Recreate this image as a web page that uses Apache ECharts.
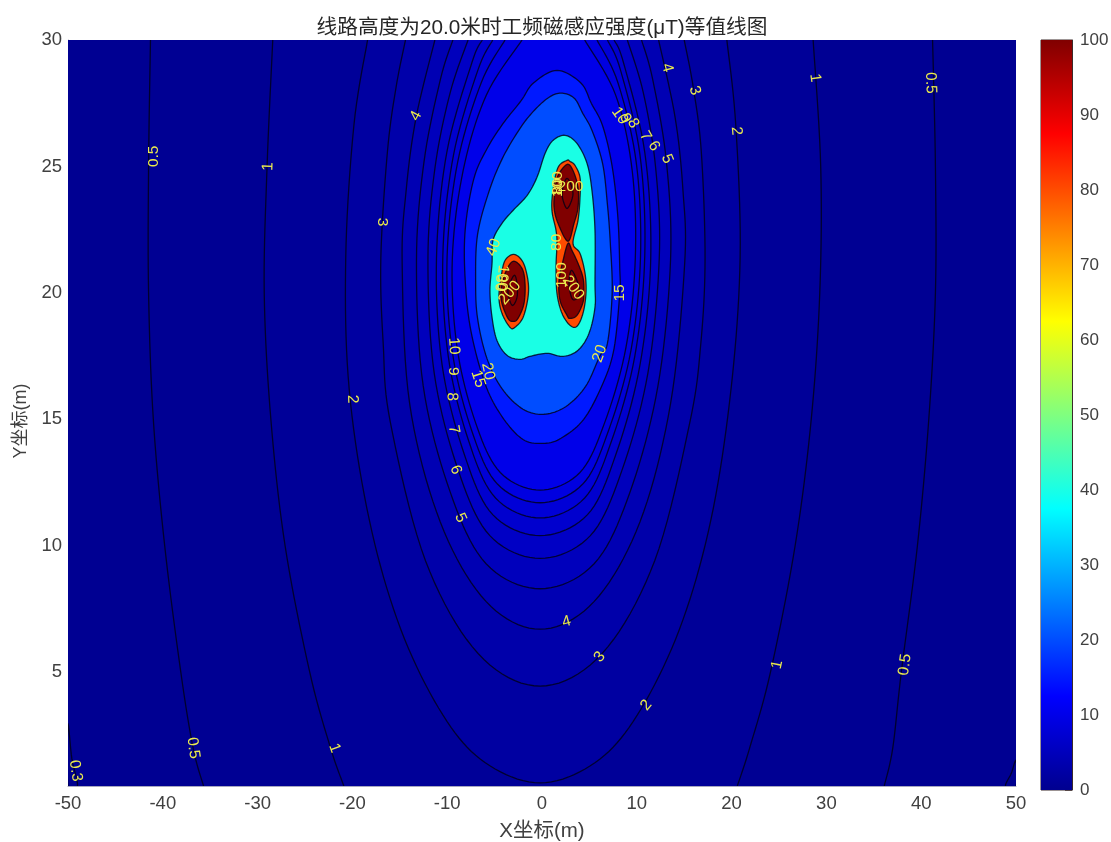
<!DOCTYPE html>
<html><head><meta charset="utf-8">
<style>html,body{margin:0;padding:0;background:#fff}#c{width:1111px;height:842px}</style>
<script src="https://cdn.jsdelivr.net/npm/echarts@6/dist/echarts.min.js"></script>
</head><body><div id="c"></div>
<script>
const titleText = '线路高度为20.0米时工频磁感应强度(μT)等值线图';
const xName = 'X坐标(m)';
const yName = 'Y坐标(m)';
const xTicks = [-50,-40,-30,-20,-10,0,10,20,30,40,50];
const yTicks = [5,10,15,20,25,30];
const colorbarValue = [100];

// contour outlines, [x, y] in axis units
const plotArea = [[-50,30],[50,30],[50,0.5],[-50,0.5]];
const level03Left = [[-50,2.9],[-49.6,1.6],[-49,0.5],[-50,0.5]];
const level03Right = [[50,1.5],[49.5,1],[48.9,0.5],[50,0.5]];
const level05 = [[-41.3,30],[-41.5,25],[-41.5,20],[-41,15],[-39.8,10],[-38.1,5],[-36.8,2],[-35.7,0.5],[36.1,0.5],[37,2],[37.9,5],[39.6,10],[40.8,15],[41.5,20],[41.5,25],[41.2,30]];
const level1 = [[-28.4,30],[-29,25],[-29.3,20],[-28.6,15],[-27.1,10],[-24.5,5],[-22.3,2],[-20.9,0.5],[20.6,0.5],[21.9,2],[24.1,5],[26.7,10],[28.4,15],[29.3,20],[29.4,25],[28.6,30]];
const level2 = [[-18.4,30],[-19.84,26.63],[-20.7,21.42],[-20.34,16.2],[-18.21,11.01],[-14.9,6.7],[-10.46,3.31],[-6.02,1.43],[-0.2,0.62],[5.62,1.43],[10.06,3.31],[14.5,6.7],[17.81,11.01],[19.94,16.2],[20.9,21.42],[20.44,26.63],[19.5,30]];
const level3 = [[-14.4,30],[-15.39,28.14],[-16.3,25.6],[-17,21.37],[-16.75,17.99],[-16,14.89],[-12.29,9.41],[-6.74,5.74],[-0.2,4.45],[6.34,5.74],[11.89,9.41],[15.6,14.89],[16.75,17.99],[17.2,21.37],[16.8,25.6],[15.95,28.14],[15,30]];
const level4 = [[-11.3,30],[-13.28,26.94],[-14.33,24.05],[-14.75,21.16],[-13.96,15.62],[-10.73,10.94],[-5.91,7.8],[-0.2,6.7],[5.51,7.8],[10.33,10.94],[13.56,15.62],[15.05,21.16],[14.87,24.05],[14.04,26.94],[12.3,30]];
const level5 = [[-9.4,30],[-10.71,28.45],[-12.44,25.2],[-13.24,21.3],[-12.53,16.32],[-9.67,12.11],[-5.9,9.29],[-0.2,8.3],[5.5,9.29],[9.27,12.11],[12.23,16.32],[13.56,21.3],[13.12,25.2],[11.67,28.45],[10.5,30]];
const level6 = [[-7.8,30],[-9.69,27.91],[-11.29,24.94],[-12.03,21.38],[-11.37,16.83],[-8.83,12.98],[-5.5,10.4],[-0.2,9.5],[5.1,10.4],[8.43,12.98],[11.17,16.83],[12.37,21.38],[11.99,24.94],[10.69,27.91],[9,30]];
const level7 = [[-6.3,30],[-7.39,29.11],[-10.04,25.56],[-11.13,21.36],[-10.54,17.16],[-8.19,13.61],[-5.2,11.23],[-0.2,10.4],[4.8,11.23],[7.79,13.61],[10.34,17.16],[11.47,21.36],[10.84,25.56],[8.59,29.11],[7.6,30]];
const level8 = [[-5.2,30],[-6.77,28.8],[-9.34,25.44],[-10.46,21.47],[-9.89,17.5],[-7.73,14.14],[-4.9,11.89],[-0.2,11.1],[4.5,11.89],[7.33,14.14],[9.79,17.5],[10.84,21.47],[10.34,25.44],[8.29,28.8],[6.9,30]];
const level9 = [[-3.9,30],[-6.41,28.31],[-8.9,25.16],[-10.01,21.43],[-9.47,17.7],[-7.41,14.55],[-4.7,12.44],[-0.2,11.7],[4.3,12.44],[7.01,14.55],[9.37,17.7],[10.39,21.43],[9.94,25.16],[8.01,28.31],[5.8,30]];
const level10 = [[-2.1,30],[-5.87,27.82],[-8.31,24.85],[-9.46,21.35],[-8.96,17.85],[-7.02,14.88],[-4.4,12.9],[-0.2,12.2],[4,12.9],[6.62,14.88],[8.86,17.85],[9.84,21.35],[9.51,24.85],[7.77,27.82],[4.5,30]];
const level15 = [[1.6,28.8],[4.1,28.3],[5.2,27.5],[6.4,26.6],[7.4,25],[8,23],[8.2,21],[8.2,20],[7.6,17.8],[6.4,16.4],[4.4,15],[2,14.25],[0.2,14.05],[-2,14.2],[-4.2,15.1],[-6,16.4],[-7.5,18.5],[-8.1,20.5],[-8.1,22.5],[-7.2,24.5],[-5.8,25.7],[-4.1,26.7],[-2.2,27.6],[-0.9,28.3]];
const level20 = [[2,27.9],[3.4,27.7],[4.3,27.1],[5.3,26.4],[6.4,25.1],[6.9,23.5],[7.2,22],[7.4,20],[6.9,18],[6.1,17.5],[4.6,16.3],[2.5,15.5],[0.2,15.2],[-2,15.4],[-4.2,16.2],[-5.8,17.4],[-6.8,19],[-7,20.5],[-6.8,22.3],[-5.6,24],[-4.2,25.3],[-2.5,26.4],[-1.1,27.1],[0.6,27.7]];
const level40 = [[2.43,26.23],[3.69,25.91],[4.75,25.12],[5.27,24.05],[5.59,22.47],[5.59,20.38],[5.59,19.43],[4.96,18.4],[3.8,17.73],[2.22,17.49],[0.53,17.61],[-1.27,17.49],[-2.32,17.37],[-3.69,17.53],[-4.75,18.12],[-5.27,19.03],[-5.49,20.1],[-5.27,21.17],[-5.17,22.08],[-4.22,22.75],[-3.06,23.26],[-1.58,23.85],[-0.53,24.57],[0.32,25.51],[1.16,26.03]];
const level80Right = [[2.64,25.24],[2.95,25.2],[3.48,25.04],[4.01,24.56],[4.01,23.77],[3.8,22.87],[3.27,21.96],[4.01,21.56],[4.54,20.77],[4.64,19.98],[4.32,19.19],[3.69,18.68],[2.95,18.72],[2.11,19.19],[1.58,19.98],[1.48,21.01],[1.58,21.96],[1.48,22.47],[1.05,23.26],[1.16,24.05],[1.69,24.96]];
const level80Left = [[-2.95,21.52],[-2,21.21],[-1.48,20.49],[-1.48,19.82],[-2,19.03],[-2.85,18.64],[-3.38,18.64],[-4.22,19.19],[-4.54,19.82],[-4.32,20.61],[-3.9,21.28]];
const level100Upper = [[2.64,25.08],[3.27,24.84],[3.8,24.17],[3.8,23.38],[3.38,22.75],[2.74,22.04],[1.69,22.75],[1.27,23.38],[1.37,24.05],[1.69,24.64]];
const level100Lower = [[2.74,21.96],[3.16,21.68],[3.8,21.17],[4.32,20.61],[4.43,20.1],[4.32,19.62],[3.69,19.11],[2.95,18.99],[2.64,19.11],[1.9,19.7],[1.79,20.49],[2.22,21.28]];
const level100Left = [[-3.06,21.25],[-2.11,20.97],[-1.79,20.38],[-1.9,19.58],[-2.53,18.99],[-3.06,18.87],[-3.59,18.99],[-4.22,19.58],[-4.32,20.1],[-3.9,20.77]];
const level200Upper = [[2.64,24.53],[3.27,23.93],[2.64,23.34],[2.11,23.93]];
const level200Lower = [[3.16,20.89],[4.01,20.1],[3.69,19.78],[3.16,19.78],[2.85,20.38]];
const level200Left = [[-2.95,20.69],[-2.64,20.38],[-2.64,19.82],[-3.16,19.51],[-3.59,20.1]];

// contour labels
const labelTexts = ['0.3','0.5','0.5','0.5','0.5','1','1','1','1','2','2','2','3','3','3','4','4','4','5','5','6','6','7','7','8','8','9','9','10','10','15','20','15','20','40','80','100','200','100','80','200','100','80','200'];
const labelX = [-49.2,-41,41,38.3,-36.8,-28.9,28.8,24.8,-21.9,-20,20.5,11,-16.9,16.1,6.1,-13.3,13.2,2.6,-8.6,13.2,-9.1,11.8,-9.3,10.9,-9.5,9.6,-9.4,8.8,-9.3,8.2,-6.75,-5.7,8.2,6.1,-5.1,1.5,2.1,3.3,1.7,1.7,3,-4.2,-4.4,-3.4];
const labelY = [1.1,25.4,28.3,5.3,2,25,28.5,5.3,2,15.8,26.4,3.7,22.8,28,5.6,27,28.9,7,11.1,25.3,13,25.8,14.6,26.2,15.9,26.7,16.9,26.9,17.9,27,16.6,16.9,20,17.6,21.8,22,20.7,20.2,24.3,24.2,24.2,20.6,20.4,20];
const labelAngles = [-82,90,-88,82,-82,88,-82,78,-70,-88,-85,50,-90,-70,50,62,-75,15,-65,-68,-70,-60,-80,-60,-88,-60,-90,-58,-86,-55,-72,-78,90,70,70,90,90,-55,90,90,0,-95,-95,50];

const contours = [
  {level:0.3, points:plotArea, line:false},
  {level:0, points:level03Left, line:true},
  {level:0, points:level03Right, line:true},
  {level:0.5, points:level05, line:true},
  {level:1, points:level1, line:true},
  {level:2, points:level2, line:true},
  {level:3, points:level3, line:true},
  {level:4, points:level4, line:true},
  {level:5, points:level5, line:true},
  {level:6, points:level6, line:true},
  {level:7, points:level7, line:true},
  {level:8, points:level8, line:true},
  {level:9, points:level9, line:true},
  {level:10, points:level10, line:true},
  {level:15, points:level15, line:true},
  {level:20, points:level20, line:true},
  {level:40, points:level40, line:true},
  {level:80, points:level80Right, line:true},
  {level:80, points:level80Left, line:true},
  {level:100, points:level100Upper, line:true},
  {level:100, points:level100Lower, line:true},
  {level:100, points:level100Left, line:true},
  {level:200, points:level200Upper, line:true},
  {level:200, points:level200Lower, line:true},
  {level:200, points:level200Left, line:true}
];

const jetStops = [[0,[0,0,143]],[0.125,[0,0,255]],[0.375,[0,255,255]],[0.625,[255,255,0]],[0.875,[255,0,0]],[1,[128,0,0]]];
function jet(level){
  const t = Math.min(level/100,1);
  for(let i=1;i<jetStops.length;i++){
    if(t<=jetStops[i][0]){
      const a=jetStops[i-1], b=jetStops[i], f=(t-a[0])/(b[0]-a[0]);
      const c=a[1].map((v,k)=>Math.round(v+(b[1][k]-v)*f));
      return 'rgb('+c.join(',')+')';
    }
  }
  return 'rgb(128,0,0)';
}
const yMin = 0.5, yMax = 30;
function onEdge(p){ return p[1]===yMin || p[1]===yMax; }
// rounded drawing of a traced outline, in screen space only
function round(run, closed){
  const n=run.length, out=[], segs=closed?n:n-1;
  for(let i=0;i<segs;i++){
    const p1=run[i], p2=run[(i+1)%n];
    const p0=closed?run[(i-1+n)%n]:run[Math.max(i-1,0)];
    const p3=closed?run[(i+2)%n]:run[Math.min(i+2,n-1)];
    for(let k=0;k<10;k++){
      const t=k/10,t2=t*t,t3=t2*t;
      out.push([0,1].map(d=>0.5*(2*p1[d]+(p2[d]-p0[d])*t+(2*p0[d]-5*p1[d]+4*p2[d]-p3[d])*t2+(3*p1[d]-p0[d]-3*p2[d]+p3[d])*t3)));
    }
  }
  if(!closed) out.push(run[n-1]);
  return out;
}
function contourShapes(c, api){
  const pts=c.points;
  const closed=!(onEdge(pts[0])&&onEdge(pts[pts.length-1]));
  const px=pts.map(p=>api.coord(p));
  if(closed){ const r=round(px,true); return {fill:r,lines:[r.concat([r[0]])]}; }
  const runs=[]; let cur=[px[0]];
  for(let i=1;i<pts.length;i++){
    if(onEdge(pts[i])&&onEdge(pts[i-1])){runs.push(cur);cur=[];}
    cur.push(px[i]);
  }
  runs.push(cur);
  const rr=runs.map(r=>r.length>2?round(r,false):r);
  return {fill:[].concat(...rr),lines:rr};
}
const font='"Liberation Sans","Noto Sans CJK SC",sans-serif';
const chart=echarts.init(document.getElementById('c'),null,{renderer:'canvas'});
chart.setOption({
  animation:false,
  textStyle:{fontFamily:font},
  title:{text:titleText,left:537,top:13,textAlign:'center',textStyle:{fontFamily:font,fontSize:20.7,fontWeight:'normal',color:'#262626'}},
  grid:[
    {left:68,right:95,top:40,bottom:56,show:true,backgroundColor:jet(0),borderWidth:0,outerBoundsMode:'none'},
    {left:1041,top:40,width:31,height:750,show:true,borderColor:'#3a2a2a',borderWidth:1,outerBoundsMode:'none'}
  ],
  xAxis:[
    {gridIndex:0,type:'value',min:-50,max:50,interval:10,splitLine:{show:false},axisTick:{show:false},
     axisLine:{show:true,onZero:false,lineStyle:{color:'#a8a8c0'}},
     axisLabel:{color:'#404040',fontSize:18.5,margin:9,customValues:xTicks},
     name:xName,nameLocation:'middle',nameGap:35,nameTextStyle:{color:'#404040',fontSize:20.5}},
    {gridIndex:1,type:'category',data:[''],show:false}
  ],
  yAxis:[
    {gridIndex:0,type:'value',min:yMin,max:yMax,splitLine:{show:false},axisTick:{show:false},
     axisLine:{show:true,onZero:false,lineStyle:{color:'#a8a8c0'}},
     axisLabel:{color:'#404040',fontSize:18.5,margin:6,customValues:yTicks},
     name:yName,nameLocation:'middle',nameGap:25,nameTextStyle:{color:'#404040',fontSize:18,padding:[0,16,0,0]}},
    {gridIndex:1,type:'value',min:0,max:100,interval:10,position:'right',splitLine:{show:false},
     axisLine:{show:true,lineStyle:{color:'#3a2a2a'}},
     axisTick:{show:true,inside:true,length:7,lineStyle:{color:'rgba(40,20,20,0.6)'}},
     axisLabel:{color:'#404040',fontSize:17,margin:8}}
  ],
  series:[
    {type:'custom',xAxisIndex:0,yAxisIndex:0,clip:true,silent:true,z:2,
     data:contours.map((c,i)=>[i]),
     renderItem:function(params,api){
       const c=contours[params.dataIndex];
       const s=contourShapes(c,api);
       const children=[{type:'polygon',shape:{points:s.fill},style:{fill:jet(c.level),stroke:null}}];
       if(c.line) s.lines.forEach(l=>children.push({type:'polyline',shape:{points:l},style:{fill:null,stroke:'rgba(0,0,20,0.8)',lineWidth:1.3}}));
       return {type:'group',children:children};
     }},
    {type:'custom',xAxisIndex:0,yAxisIndex:0,clip:true,silent:true,z:3,
     data:labelTexts.map((t,i)=>[labelX[i],labelY[i]]),
     renderItem:function(params,api){
       const i=params.dataIndex, p=api.coord([labelX[i],labelY[i]]);
       return {type:'text',x:p[0],y:p[1],rotation:labelAngles[i]*Math.PI/180,
         style:{text:labelTexts[i],fill:'#eaea4e',fontFamily:font,fontSize:15.5,align:'center',verticalAlign:'middle'}};
     }},
    {type:'bar',xAxisIndex:1,yAxisIndex:1,barWidth:'100%',silent:true,data:colorbarValue,z:1,
     itemStyle:{color:new echarts.graphic.LinearGradient(0,0,0,1,[
       {offset:0,color:'#800000'},{offset:0.125,color:'#ff0000'},{offset:0.375,color:'#ffff00'},
       {offset:0.625,color:'#00ffff'},{offset:0.875,color:'#0000ff'},{offset:1,color:'#00008f'}])}}
  ]
});
</script></body></html>
